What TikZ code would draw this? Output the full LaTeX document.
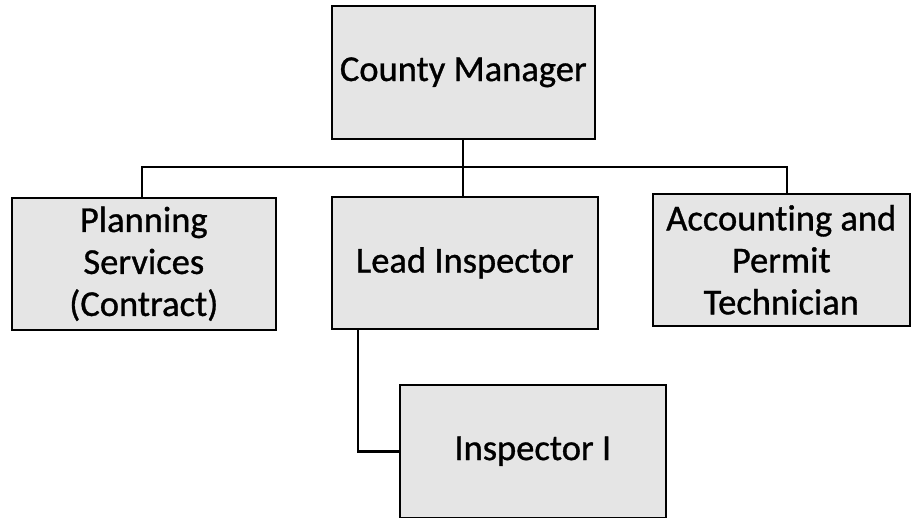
\documentclass[tikz,border=0pt]{standalone}
\usepackage{fontspec}
\setmainfont{Carlito}[Ligatures=NoCommon]
\newfontfamily\boxfont{Carlito}[Ligatures=NoCommon, FakeBold=0.9]
\begin{document}
\begin{tikzpicture}[x=1pt,y=-1pt,
  orgbox/.style={draw=black, line width=1.6pt, fill=black!10, align=center,
    font=\fontsize{36.5}{42}\boxfont, inner sep=0pt, anchor=north west},
  link/.style={draw=black, line width=2.8pt}]
\useasboundingbox (0,0) rectangle (911,518);
\node[orgbox, minimum width=263pt, minimum height=133pt] (cm) at (331,5) {County Manager};
\node[orgbox, minimum width=264pt, minimum height=132pt] (ps) at (11,197) {Planning\\Services\\(Contract)};
\node[orgbox, minimum width=266pt, minimum height=132pt] (li) at (331,196) {Lead Inspector};
\node[orgbox, minimum width=257pt, minimum height=132pt] (ac) at (652,193) {Accounting and\\Permit\\Technician};
\node[orgbox, minimum width=266pt, minimum height=133pt] (ii) at (399,384) {Inspector I};
\coordinate (bus) at (463,167);
\draw[link] (cm.south -| bus) -- (bus);
\draw[link] (ps.north -| 142,0) |- (bus) -| (ac.north -| 787,0);
\draw[link] (bus) -- (li.north -| bus);
\draw[link] (li.south -| 358,0) |- (ii.west);
\end{tikzpicture}
\end{document}
